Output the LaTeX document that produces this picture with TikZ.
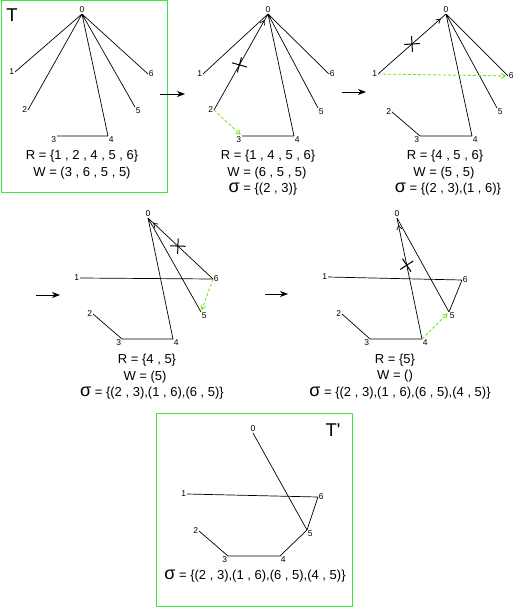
\documentclass[tikz,border=0pt]{standalone}
\usepackage{fontspec}
\setmainfont{Liberation Sans}
\usetikzlibrary{arrows.meta,shapes.misc,decorations.markings}

\definecolor{boxgreen}{RGB}{60,232,60}
\definecolor{movegreen}{RGB}{100,230,20}
\newcommand{\sgm}{{\fontsize{18}{18}\selectfont σ}}

\begin{document}
\begin{tikzpicture}[x=1pt,y=1pt,yscale=-1,xscale=1,
  edge/.style={line width=0.7pt},
  tipnear/.style={decoration={markings,mark=at position -7pt with {\arrow{Straight Barb[length=4pt,width=5pt]}}},postaction={decorate}},
  cutmark/.style={cross out,draw,sloped,minimum size=10pt,inner sep=0pt,line width=1pt},
  movearrow/.style={draw=movegreen,dash pattern=on 3pt off 2pt,line width=0.8pt,-{Straight Barb[length=4pt,width=5pt]},shorten >=2pt},
  nextarrow/.style={line width=0.8pt,-{Stealth[length=8pt,width=6pt,inset=2.5pt]}},
  greenframe/.style={draw=boxgreen,line width=1pt},
  lbl/.style={inner sep=0.75pt,font=\fontsize{8.5}{9}\selectfont},
  txt/.style={inner sep=0.75pt,font=\fontsize{13}{14}\selectfont},
  big/.style={inner sep=0.75pt,font=\fontsize{18.5}{19}\selectfont}]
\useasboundingbox (0,0) rectangle (518,607);

%Shape: Rectangle T
\draw[greenframe] (1,1) rectangle (167,192.5);
%Shape: Rectangle T'
\draw[greenframe] (156,413) rectangle (352,606);

%Panel T
\foreach \n/\x/\y/\p in {0/82/14/above,1/15/72/left,2/28/110/left,3/57/136/below left,4/108/136/below right,5/135/107/below right,6/148/74/right}
  {\coordinate (a\n) at (\x,\y); \node[lbl,\p] (la\n) at (a\n) {\n};}
\draw[edge] (a0) -- (a1) (a0) -- (a2) (a0) -- (a4) (a0) -- (a5) (a0) -- (a6) (a3) -- (a4);
% Text Node
\node[big] (tt) at (12,15) {T};
\node[txt] (ra) at (82,156) {R = \{1 , 2 , 4 , 5 , 6\}};
\node[txt] (wa) at (82,173) {W = (3 , 6 , 5 , 5)};

%Panel 2
\foreach \n/\x/\y/\p in {0/268/14/above,1/203/74/left,2/214/110/left,3/242/136/below left,4/294/136/below right,5/318/108/below right,6/329/74/right}
  {\coordinate (b\n) at (\x,\y); \node[lbl,\p] (lb\n) at (b\n) {\n};}
\draw[edge] (b0) -- (b1) (b0) -- (b4) (b0) -- (b5) (b0) -- (b6) (b3) -- (b4);
\draw[edge,tipnear] (b2) -- node[cutmark,pos=0.47] (xb) {} (b0);
\draw[movearrow] (b2) -- (b3);
% Text Node
\node[txt] (rb) at (268,156) {R = \{1 , 4 , 5 , 6\}};
\node[txt] (wb) at (267,173) {W = (6 , 5 , 5)};
\node[txt] (sb) at (263,189) {\sgm{} = \{(2 , 3)\}};

%Panel 3
\foreach \n/\x/\y/\p in {0/446/14/above,1/378/74/left,2/392/112/left,3/420/136/below left,4/472/136/below right,5/497/108/below right,6/508/76/right}
  {\coordinate (c\n) at (\x,\y); \node[lbl,\p] (lc\n) at (c\n) {\n};}
\draw[edge] (c0) -- (c4) (c0) -- (c5) (c0) -- (c6) (c2) -- (c3) (c3) -- (c4);
\draw[edge,tipnear] (c1) -- node[cutmark,pos=0.5] (xc) {} (c0);
\draw[movearrow] (c1) -- (c6);
% Text Node
\node[txt] (rc) at (445,156) {R = \{4 , 5 , 6\}};
\node[txt] (wc) at (444,173) {W = (5 , 5)};
\node[txt] (sc) at (448,189) {\sgm{} = \{(2 , 3),(1 , 6)\}};

%Panel 4
\foreach \n/\x/\y/\p in {0/148/218/above,1/80/278/left,2/93/314/left,3/122/339/below left,4/173/339/below right,5/201/312/below right,6/213/279/right}
  {\coordinate (d\n) at (\x,\y); \node[lbl,\p] (ld\n) at (d\n) {\n};}
\draw[edge] (d0) -- (d4) (d0) -- (d5) (d1) -- (d6) (d2) -- (d3) (d3) -- (d4);
\draw[edge,tipnear] (d6) -- node[cutmark,pos=0.54] (xd) {} (d0);
\draw[movearrow] (d6) -- (d5);
% Text Node
\node[txt] (rd) at (147,360) {R = \{4 , 5\}};
\node[txt] (wd) at (145,377) {W = (5)};
\node[txt] (sd) at (152,393) {\sgm{} = \{(2 , 3),(1 , 6),(6 , 5)\}};

%Panel 5
\foreach \n/\x/\y/\p in {0/397/218/above,1/328/277/left,2/342/314/left,3/370/339/below left,4/422/339/below right,5/449/312/below right,6/462/280/right}
  {\coordinate (e\n) at (\x,\y); \node[lbl,\p] (le\n) at (e\n) {\n};}
\draw[edge] (e0) -- (e5) (e1) -- (e6) (e6) -- (e5) (e2) -- (e3) (e3) -- (e4);
\draw[edge,tipnear] (e4) -- node[cutmark,pos=0.61] (xe) {} (e0);
\draw[movearrow] (e4) -- (e5);
% Text Node
\node[txt] (re) at (395,360) {R = \{5\}};
\node[txt] (we) at (395,376) {W = ()};
\node[txt] (se) at (400,393) {\sgm{} = \{(2 , 3),(1 , 6),(6 , 5),(4 , 5)\}};

%Panel T'
\foreach \n/\x/\y/\p in {0/253/433/above,1/187/494/left,2/199/531/left,3/228/556/below left,4/280/556/below right,5/307/530/below right,6/318/497/right}
  {\coordinate (f\n) at (\x,\y); \node[lbl,\p] (lf\n) at (f\n) {\n};}
\draw[edge] (f0) -- (f5) (f1) -- (f6) (f6) -- (f5) (f5) -- (f4) (f4) -- (f3) (f3) -- (f2);
% Text Node
\node[big] (tp) at (333,430) {T\textquotesingle};
\node[txt] (sf) at (255,576) {\sgm{} = \{(2 , 3),(1 , 6),(6 , 5),(4 , 5)\}};

%Straight Lines between steps
\coordinate (n1s) at (160,94);  \coordinate (n1e) at (185,94);
\coordinate (n2s) at (342,92);  \coordinate (n2e) at (366,92);
\coordinate (n3s) at (36,295);  \coordinate (n3e) at (60,295);
\coordinate (n4s) at (265,294); \coordinate (n4e) at (288,294);
\draw[nextarrow] (n1s) -- (n1e);
\draw[nextarrow] (n2s) -- (n2e);
\draw[nextarrow] (n3s) -- (n3e);
\draw[nextarrow] (n4s) -- (n4e);

\end{tikzpicture}
\end{document}
